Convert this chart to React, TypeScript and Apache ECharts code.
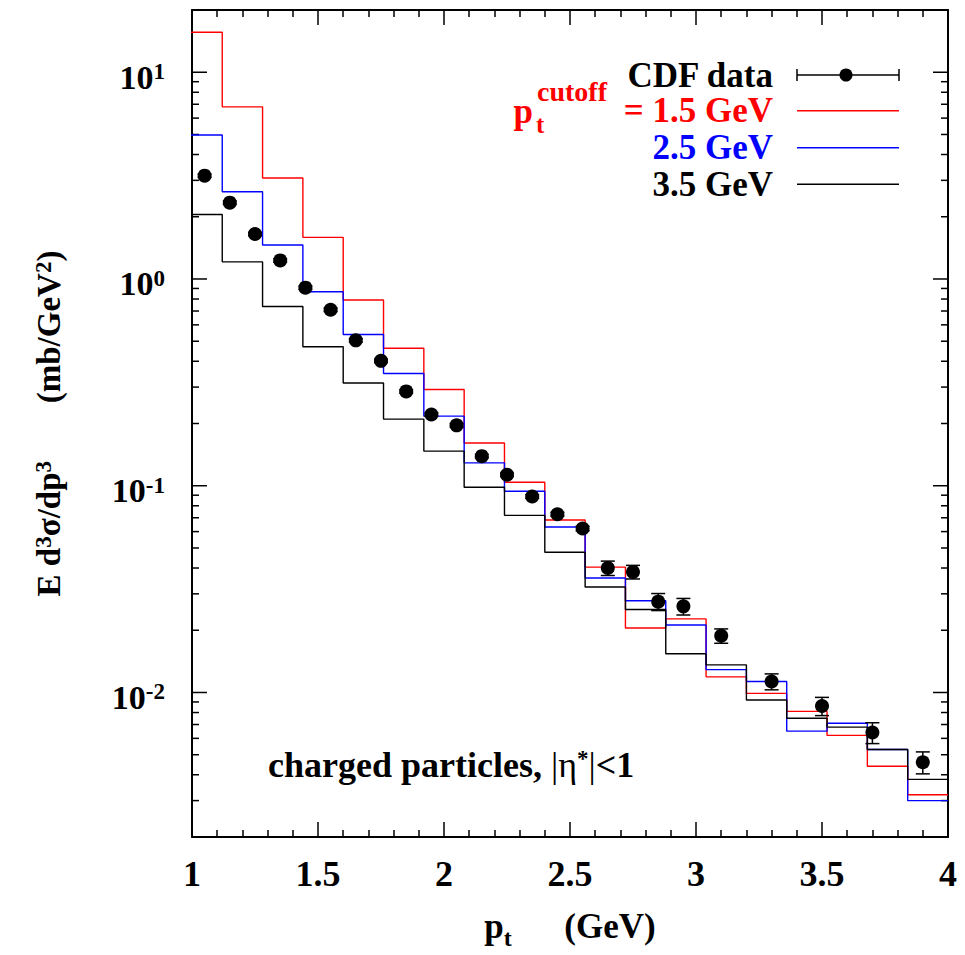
import React, { useEffect, useRef } from 'react';
import * as echarts from 'echarts';

// ---------- data ----------
const binEdges = [0.96, 1.12, 1.28, 1.44, 1.6, 1.76, 1.92, 2.08, 2.24, 2.4, 2.56, 2.72, 2.88, 3.04, 3.2, 3.36, 3.52, 3.68, 3.84, 4.0];

const cut15 = [15.6, 6.8, 3.08, 1.59, 0.792, 0.462, 0.292, 0.161, 0.104, 0.0683, 0.0404, 0.0205, 0.0227, 0.0119, 0.0099, 0.0081, 0.0062, 0.0044, 0.0032];
const cut25 = [4.97, 2.64, 1.46, 0.868, 0.539, 0.349, 0.217, 0.129, 0.094, 0.0632, 0.0358, 0.0278, 0.0212, 0.0129, 0.0113, 0.0065, 0.0071, 0.0053, 0.003];
const cut35 = [2.05, 1.21, 0.736, 0.47, 0.314, 0.21, 0.147, 0.0983, 0.0719, 0.0477, 0.0324, 0.0252, 0.0154, 0.0136, 0.0092, 0.0075, 0.0068, 0.0053, 0.0038];

const cdfPt = [1.05, 1.15, 1.25, 1.35, 1.45, 1.55, 1.65, 1.75, 1.85, 1.95, 2.05, 2.15, 2.25, 2.35, 2.45, 2.55, 2.65, 2.75, 2.85, 2.95, 3.1, 3.3, 3.5, 3.7, 3.9];
const cdfVal = [3.16, 2.34, 1.65, 1.23, 0.908, 0.71, 0.505, 0.402, 0.286, 0.221, 0.196, 0.139, 0.113, 0.0887, 0.0728, 0.0621, 0.04, 0.0383, 0.0275, 0.0261, 0.0188, 0.0113, 0.0086, 0.0064, 0.0046];
const cdfErr = [0.06, 0.045, 0.032, 0.024, 0.018, 0.014, 0.01, 0.008, 0.0057, 0.0044, 0.004, 0.0028, 0.0023, 0.0018, 0.0016, 0.0016, 0.0032, 0.0029, 0.0026, 0.0024, 0.0015, 0.001, 0.00087, 0.00074, 0.00056];

const yMajorTicks = [0.01, 0.1, 1, 10];
const yMinorMantissas = [2, 3, 4, 5, 6, 7, 8, 9];
const yDecades = [0.001, 0.01, 0.1, 1, 10];

const X_MIN = 1;
const X_MAX = 4;
const Y_MIN = 0.002;
const Y_MAX = 20;

const FONT = "'Liberation Serif', 'Times New Roman', serif";

function stepData(vals: number[]) {
  const d: number[][] = vals.map((v, i) => [binEdges[i], v]);
  d.push([binEdges[vals.length], vals[vals.length - 1]]);
  return d;
}

function buildTicks() {
  const t: number[][] = yMajorTicks.map((v) => [X_MIN, v, 1]);
  yDecades.forEach((d) =>
    yMinorMantissas.forEach((m) => {
      const v = +(m * d).toPrecision(6);
      if (v > Y_MIN * 1.0001 && v < Y_MAX * 0.9999) t.push([X_MIN, v, 0]);
    })
  );
  return t;
}

const axisLineStyle = { color: '#000', width: 2 };
const tickLineStyle = { color: '#000', width: 1.5 };

export default function App() {
  const ref = useRef<HTMLDivElement>(null);

  useEffect(() => {
    if (!ref.current) return;
    const chart = echarts.init(ref.current, undefined, { renderer: 'svg' });

    const bold = { fontFamily: FONT, fontWeight: 'bold' as const, color: '#000' };

    const xAxisCommon = {
      type: 'value' as const,
      min: X_MIN,
      max: X_MAX,
      interval: 0.5,
      axisLine: { show: true, onZero: false, lineStyle: axisLineStyle },
      axisTick: { show: true, inside: true, length: 15, lineStyle: tickLineStyle },
      minorTick: { show: true, splitNumber: 5, length: 7, lineStyle: tickLineStyle },
      splitLine: { show: false },
      minorSplitLine: { show: false },
    };

    const option: any = {
      animation: false,
      backgroundColor: '#ffffff',
      grid: { left: 192, right: 17, top: 10, bottom: 108, containLabel: false },
      xAxis: [
        {
          ...xAxisCommon,
          position: 'bottom',
          axisLabel: { ...bold, fontSize: 36, margin: 19 },
          name: '{p|p}{t|t}{g|      (GeV)}',
          nameLocation: 'middle',
          nameGap: 72,
          nameTextStyle: {
            rich: {
              p: { ...bold, fontSize: 35 },
              t: { ...bold, fontSize: 24, verticalAlign: 'bottom', padding: [0, 0, -6, 0] },
              g: { ...bold, fontSize: 35 },
            },
          },
        },
        { ...xAxisCommon, position: 'top', axisLabel: { show: false } },
      ],
      yAxis: [
        {
          type: 'log',
          logBase: 10,
          min: Y_MIN,
          max: Y_MAX,
          position: 'left',
          axisLine: { show: true, onZero: false, lineStyle: axisLineStyle },
          axisTick: { show: false },
          splitLine: { show: false },
          axisLabel: {
            margin: 27,
            padding: [10, 0, 0, 0],
            formatter: (val: number) => {
              const l = Math.log10(val);
              const e = Math.round(l);
              if (Math.abs(l - e) > 1e-6) return '';
              return '{b|10}{s|' + e + '}';
            },
            rich: {
              b: { ...bold, fontSize: 34 },
              s: { ...bold, fontSize: 23, verticalAlign: 'top' },
            },
          },
          name: '{n|E d}{s|3}{n|σ/dp}{s|3}{n|       (mb/GeV}{s|2}{n|)}',
          nameLocation: 'middle',
          nameRotate: 90,
          nameGap: 127,
          nameTextStyle: {
            rich: {
              n: { ...bold, fontSize: 33 },
              s: { ...bold, fontSize: 23, verticalAlign: 'top' },
            },
          },
        },
        {
          type: 'log',
          logBase: 10,
          min: Y_MIN,
          max: Y_MAX,
          position: 'right',
          axisLine: { show: true, onZero: false, lineStyle: axisLineStyle },
          axisTick: { show: false },
          splitLine: { show: false },
          axisLabel: { show: false },
        },
      ],
      series: [
        {
          name: 'yticks',
          type: 'custom',
          xAxisIndex: 0,
          yAxisIndex: 0,
          silent: true,
          clip: false,
          data: buildTicks(),
          renderItem: (_p: any, api: any) => {
            const v = api.value(1);
            const len = api.value(2) === 1 ? 15 : 7;
            const pl = api.coord([X_MIN, v]);
            const pr = api.coord([X_MAX, v]);
            return {
              type: 'group',
              children: [
                { type: 'line', shape: { x1: pl[0], y1: pl[1], x2: pl[0] + len, y2: pl[1] }, style: { stroke: '#000', lineWidth: 1.5 } },
                { type: 'line', shape: { x1: pr[0] - len, y1: pr[1], x2: pr[0], y2: pr[1] }, style: { stroke: '#000', lineWidth: 1.5 } },
              ],
            };
          },
        },
        {
          name: 'p_t cutoff = 1.5 GeV',
          type: 'line',
          step: 'end',
          showSymbol: false,
          clip: true,
          data: stepData(cut15),
          lineStyle: { color: '#ff0000', width: 1.4 },
          itemStyle: { color: '#ff0000' },
          z: 3,
        },
        {
          name: '2.5 GeV',
          type: 'line',
          step: 'end',
          showSymbol: false,
          clip: true,
          data: stepData(cut25),
          lineStyle: { color: '#0000ff', width: 1.4 },
          itemStyle: { color: '#0000ff' },
          z: 3,
        },
        {
          name: '3.5 GeV',
          type: 'line',
          step: 'end',
          showSymbol: false,
          clip: true,
          data: stepData(cut35),
          lineStyle: { color: '#000000', width: 1.4 },
          itemStyle: { color: '#000000' },
          z: 3,
        },
        {
          name: 'CDF data',
          type: 'custom',
          z: 4,
          data: cdfPt.map((x, i) => [x, cdfVal[i], cdfErr[i]]),
          renderItem: (_p: any, api: any) => {
            const x = api.value(0);
            const y = api.value(1);
            const e = api.value(2);
            const c = api.coord([x, y]);
            const t = api.coord([x, y + e]);
            const b = api.coord([x, y - e]);
            const s = { stroke: '#000', lineWidth: 1.5 };
            return {
              type: 'group',
              children: [
                { type: 'line', shape: { x1: c[0], y1: t[1], x2: c[0], y2: b[1] }, style: s },
                { type: 'line', shape: { x1: c[0] - 7, y1: t[1], x2: c[0] + 7, y2: t[1] }, style: s },
                { type: 'line', shape: { x1: c[0] - 7, y1: b[1], x2: c[0] + 7, y2: b[1] }, style: s },
                { type: 'circle', shape: { cx: c[0], cy: c[1], r: 7 }, style: { fill: '#000' } },
              ],
            };
          },
        },
      ],
      graphic: [
        // legend
        { type: 'text', x: 773, y: 75, style: { text: 'CDF data', fill: '#000', fontFamily: FONT, fontWeight: 'bold', fontSize: 35, align: 'right', verticalAlign: 'middle' } },
        { type: 'line', shape: { x1: 797, y1: 75, x2: 899, y2: 75 }, style: { stroke: '#000', lineWidth: 1.5 } },
        { type: 'line', shape: { x1: 797, y1: 69, x2: 797, y2: 81 }, style: { stroke: '#000', lineWidth: 1.5 } },
        { type: 'line', shape: { x1: 899, y1: 69, x2: 899, y2: 81 }, style: { stroke: '#000', lineWidth: 1.5 } },
        { type: 'circle', shape: { cx: 846, cy: 75, r: 6.5 }, style: { fill: '#000' } },

        { type: 'text', x: 533, y: 111, style: { text: 'p', fill: '#ff0000', fontFamily: FONT, fontWeight: 'bold', fontSize: 35, align: 'right', verticalAlign: 'middle' } },
        { type: 'text', x: 537, y: 91, style: { text: 'cutoff', fill: '#ff0000', fontFamily: FONT, fontWeight: 'bold', fontSize: 28, align: 'left', verticalAlign: 'middle' } },
        { type: 'text', x: 536, y: 124, style: { text: 't', fill: '#ff0000', fontFamily: FONT, fontWeight: 'bold', fontSize: 25, align: 'left', verticalAlign: 'middle' } },
        { type: 'text', x: 773, y: 110.5, style: { text: '= 1.5 GeV', fill: '#ff0000', fontFamily: FONT, fontWeight: 'bold', fontSize: 35, align: 'right', verticalAlign: 'middle' } },
        { type: 'line', shape: { x1: 797, y1: 110.7, x2: 899, y2: 110.7 }, style: { stroke: '#ff0000', lineWidth: 1.4 } },

        { type: 'text', x: 773, y: 147, style: { text: '2.5 GeV', fill: '#0000ff', fontFamily: FONT, fontWeight: 'bold', fontSize: 35, align: 'right', verticalAlign: 'middle' } },
        { type: 'line', shape: { x1: 797, y1: 147.7, x2: 899, y2: 147.7 }, style: { stroke: '#0000ff', lineWidth: 1.4 } },

        { type: 'text', x: 773, y: 184.5, style: { text: '3.5 GeV', fill: '#000', fontFamily: FONT, fontWeight: 'bold', fontSize: 35, align: 'right', verticalAlign: 'middle' } },
        { type: 'line', shape: { x1: 797, y1: 184.3, x2: 899, y2: 184.3 }, style: { stroke: '#000', lineWidth: 1.4 } },

        // annotation
        {
          type: 'text',
          x: 268,
          y: 765,
          style: {
            text: '{b|charged particles, }{g||η}{s|*}{g||}{b|<1}',
            align: 'left',
            verticalAlign: 'middle',
            rich: {
              b: { fontFamily: FONT, fontWeight: 'bold', fontSize: 36, fill: '#000' },
              g: { fontFamily: FONT, fontWeight: 'normal', fontSize: 36, fill: '#000' },
              s: { fontFamily: FONT, fontWeight: 'bold', fontSize: 23, fill: '#000', verticalAlign: 'top' },
            },
          },
        },
      ],
    };

    chart.setOption(option);
    return () => chart.dispose();
  }, []);

  return <div ref={ref} style={{ position: 'absolute', left: 0, top: 0, width: 965, height: 955 }} />;
}
